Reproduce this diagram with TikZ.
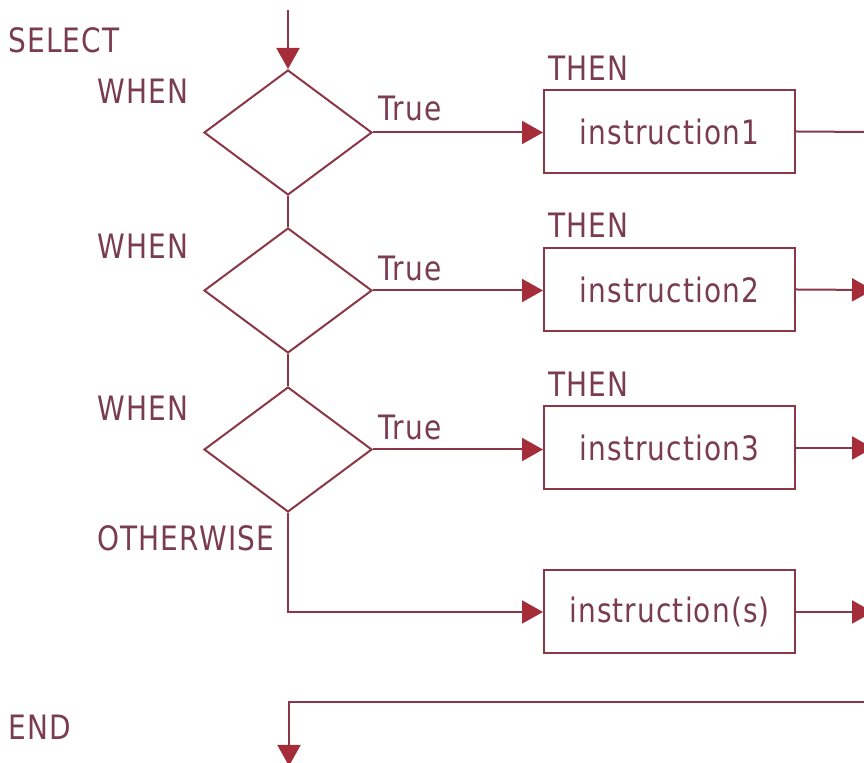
\documentclass[tikz,border=0pt]{standalone}
\usepackage{fontspec}
\usepackage{graphicx}
\setmainfont{DejaVu Sans}[LetterSpace=4]
\usetikzlibrary{shapes.geometric,arrows.meta}
\definecolor{lc}{RGB}{140,55,72}
\definecolor{ah}{RGB}{165,45,58}
\definecolor{tc}{RGB}{122,60,80}
\newcommand\stx[1]{\scalebox{1}[1.2]{#1}}
\tikzset{
  ln/.style={draw=lc, line width=1pt},
  arr/.style={ln, -{Triangle[length=10.5pt,width=11.5pt,fill=ah,color=ah]}},
  dec/.style={diamond, ln, minimum width=84pt, minimum height=62.5pt, inner sep=0pt},
  box/.style={rectangle, ln, minimum width=125.5pt, minimum height=41.5pt, inner sep=0pt, text=tc, font=\fontsize{14}{16}\selectfont},
  lbl/.style={anchor=base west, inner sep=0pt, text=tc, font=\fontsize{14}{16}\selectfont}
}
\begin{document}
\begin{tikzpicture}[x=0.5pt,y=-0.5pt]
\useasboundingbox (0,0) rectangle (864,763);
% decisions
\node[dec] (d1) at (288,132.5) {};
\node[dec] (d2) at (288,290.5) {};
\node[dec] (d3) at (288,449.5) {};
% boxes
\node[box] (b1) at (669.5,131.5) {\stx{instruction1}};
\node[box] (b2) at (669.5,289.5) {\stx{instruction2}};
\node[box] (b3) at (669.5,448) {\stx{instruction3}};
\node[box] (b4) at (669.5,612) {\stx{instruction(s)}};
% labels
\node[lbl] (tselect) at (8,53) {\stx{SELECT}};
\node[lbl] (tw1) at (97,104) {\stx{WHEN}};
\node[lbl] (tw2) at (97,259) {\stx{WHEN}};
\node[lbl] (tw3) at (97,421) {\stx{WHEN}};
\node[lbl] (tother) at (97,551) {\stx{OTHERWISE}};
\node[lbl] (tend) at (8,740) {\stx{END}};
\node[lbl] (th1) at (548,81) {\stx{THEN}};
\node[lbl] (th2) at (548,238) {\stx{THEN}};
\node[lbl] (th3) at (548,397) {\stx{THEN}};
\node[lbl] (tr1) at (378,121) {\stx{True}};
\node[lbl] (tr2) at (378,281) {\stx{True}};
\node[lbl] (tr3) at (378,440) {\stx{True}};
% coordinates
\coordinate (start) at (288,10);
\coordinate (e1) at (870,132);
\coordinate (e2) at (873,290);
\coordinate (e3) at (873,448);
\coordinate (e4) at (873,612);
\coordinate (oth) at (288,612);
\coordinate (r) at (870,702);
\coordinate (c) at (289,702);
\coordinate (fin) at (289,766);
% connectors
\draw[arr] (start) -- (d1.north);
\draw[ln] (d1.south) -- (d2.north);
\draw[ln] (d2.south) -- (d3.north);
\draw[arr] (d1.east) -- (b1.west |- d1.east);
\draw[arr] (d2.east) -- (b2.west |- d2.east);
\draw[arr] (d3.east) -- (b3.west |- d3.east);
\draw[arr] (d3.south) -- (oth) -- (b4.west);
\draw[ln] (b1.east) -- (e1);
\draw[arr] (b2.east) -- (e2);
\draw[arr] (b3.east) -- (e3);
\draw[arr] (b4.east) -- (e4);
\draw[arr] (r) -- (c) -- (fin);
\end{tikzpicture}
\end{document}
